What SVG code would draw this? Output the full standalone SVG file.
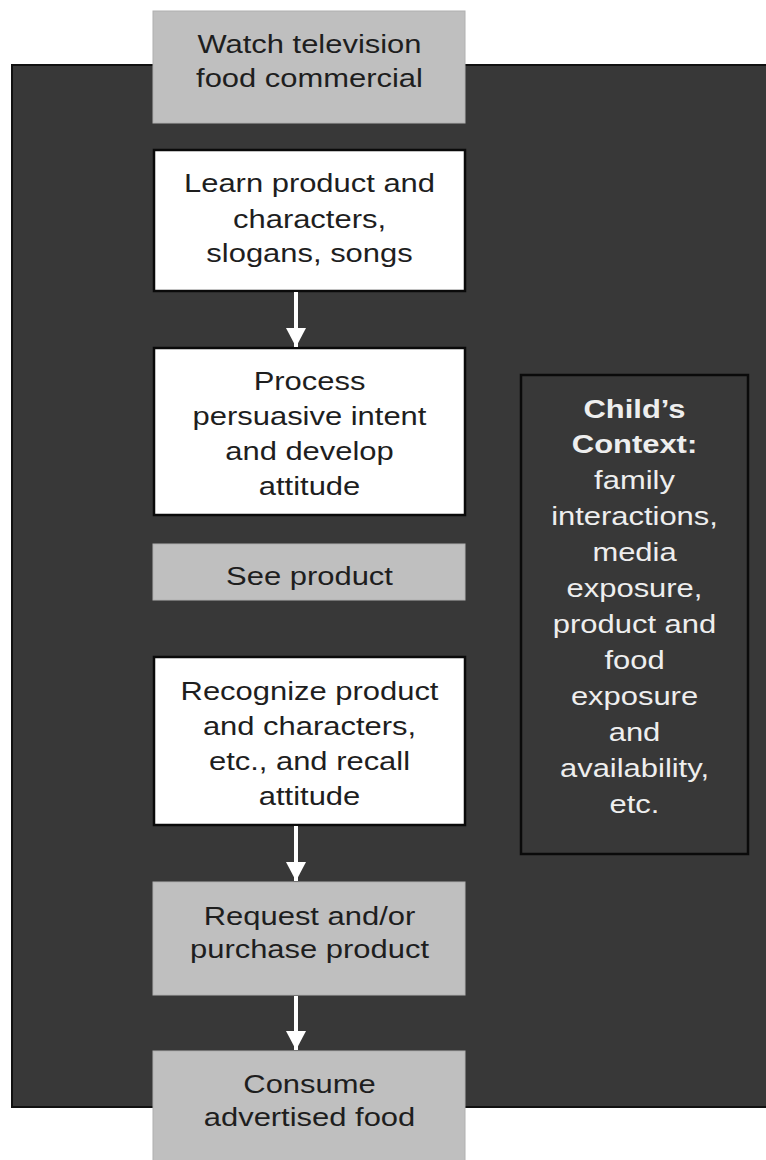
<svg xmlns="http://www.w3.org/2000/svg" width="766" height="1160" viewBox="0 0 766 1160">
<defs>
<style>
.gray{fill:#bfbfbf;stroke:#b0b0b0;stroke-width:1}
.white{fill:#ffffff;stroke:#0a0a0a;stroke-width:2.5}
.t{font-family:"Liberation Sans",Arial,sans-serif;font-size:26px;fill:#1e1e1e;text-anchor:middle}
.w{font-family:"Liberation Sans",Arial,sans-serif;font-size:26px;fill:#eeeeee;text-anchor:middle}
.b{font-weight:bold}
.conn{stroke:#ffffff;stroke-width:4;fill:none}
</style>
<marker id="ah" markerUnits="userSpaceOnUse" markerWidth="20" markerHeight="20" refX="19" refY="10" orient="auto">
<path d="M0,0 L19,10 L0,20 Z" fill="#ffffff"/>
</marker>
</defs>
<rect x="0" y="0" width="766" height="1160" fill="#ffffff"/>
<rect id="background" x="12" y="65" width="760" height="1042" fill="#383838" stroke="#111111" stroke-width="2"/>

<g id="watch">
<rect class="gray" x="153" y="11" width="312" height="112"/>
<g transform="translate(309.5,0) scale(1.19,1)">
<text class="t" x="0" y="53">Watch television</text>
<text class="t" x="0" y="87">food commercial</text>
</g>
</g>

<g id="learn">
<rect class="white" x="154" y="150" width="311" height="141"/>
<g transform="translate(309.5,0) scale(1.19,1)">
<text class="t" x="0" y="192">Learn product and</text>
<text class="t" x="0" y="228">characters,</text>
<text class="t" x="0" y="262">slogans, songs</text>
</g>
</g>

<g id="process">
<rect class="white" x="154" y="348" width="311" height="167"/>
<g transform="translate(309.5,0) scale(1.19,1)">
<text class="t" x="0" y="390">Process</text>
<text class="t" x="0" y="425">persuasive intent</text>
<text class="t" x="0" y="460">and develop</text>
<text class="t" x="0" y="495">attitude</text>
</g>
</g>

<g id="see">
<rect class="gray" x="153" y="544" width="312" height="56"/>
<g transform="translate(309.5,0) scale(1.19,1)">
<text class="t" x="0" y="585">See product</text>
</g>
</g>

<g id="recognize">
<rect class="white" x="154" y="657" width="311" height="168"/>
<g transform="translate(309.5,0) scale(1.19,1)">
<text class="t" x="0" y="700">Recognize product</text>
<text class="t" x="0" y="735">and characters,</text>
<text class="t" x="0" y="770">etc., and recall</text>
<text class="t" x="0" y="805">attitude</text>
</g>
</g>

<g id="request">
<rect class="gray" x="153" y="882" width="312" height="113"/>
<g transform="translate(309.5,0) scale(1.19,1)">
<text class="t" x="0" y="925">Request and/or</text>
<text class="t" x="0" y="958">purchase product</text>
</g>
</g>

<g id="consume">
<rect class="gray" x="153" y="1051" width="312" height="112"/>
<g transform="translate(309.5,0) scale(1.19,1)">
<text class="t" x="0" y="1093">Consume</text>
<text class="t" x="0" y="1126">advertised food</text>
</g>
</g>

<g id="context">
<rect x="521" y="375" width="227" height="479" fill="#383838" stroke="#0a0a0a" stroke-width="2.5"/>
<g transform="translate(634.5,0) scale(1.19,1)">
<text class="w b" x="0" y="418">Child’s</text>
<text class="w b" x="0" y="453">Context:</text>
<text class="w" x="0" y="489">family</text>
<text class="w" x="0" y="525">interactions,</text>
<text class="w" x="0" y="561">media</text>
<text class="w" x="0" y="597">exposure,</text>
<text class="w" x="0" y="633">product and</text>
<text class="w" x="0" y="669">food</text>
<text class="w" x="0" y="705">exposure</text>
<text class="w" x="0" y="741">and</text>
<text class="w" x="0" y="777">availability,</text>
<text class="w" x="0" y="813">etc.</text>
</g>
</g>

<g id="connectors">
<line class="conn" x1="296" y1="292" x2="296" y2="347" marker-end="url(#ah)"/>
<line class="conn" x1="296" y1="826" x2="296" y2="881" marker-end="url(#ah)"/>
<line class="conn" x1="296" y1="996" x2="296" y2="1050" marker-end="url(#ah)"/>
</g>
</svg>
